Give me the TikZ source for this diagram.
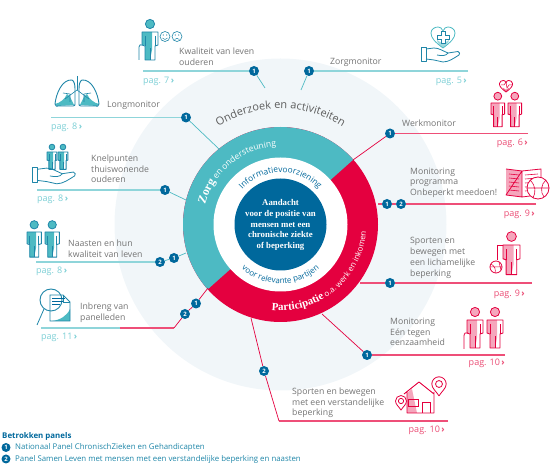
\documentclass[tikz,border=0pt]{standalone}
\usepackage{fontspec}
\setmainfont{Open Sans}
\newfontfamily\ringserif{Liberation Serif}
\usetikzlibrary{decorations.text}
\definecolor{RingTeal}{HTML}{4DBAC3}
\definecolor{RingRed}{HTML}{E4003F}
\definecolor{PalePink}{HTML}{F5A6BC}
\definecolor{LineTeal}{HTML}{8FD5DA}
\definecolor{LineRed}{HTML}{EE4F78}
\definecolor{PageTeal}{HTML}{7CCFD5}
\definecolor{PageRed}{HTML}{EA4B73}
\definecolor{CoreBlue}{HTML}{00689C}
\definecolor{IconBlue}{HTML}{1F86A8}
\definecolor{PaleBlue}{HTML}{F1F6F9}
\definecolor{TextGrey}{HTML}{747474}
\newcommand{\pagmark}{\,{\bfseries ›}}
\tikzset{
  badge/.style={circle,fill=CoreBlue,text=white,inner sep=0pt,minimum size=10pt,font=\fontsize{6}{6}\selectfont\bfseries},
  legbadge/.style={badge,minimum size=9pt,font=\fontsize{6}{6}\selectfont\bfseries},
  topic/.style={anchor=north west,align=left,inner sep=0pt,text=TextGrey,font=\fontsize{8.7}{10.7}\selectfont},
  pagteal/.style={anchor=base west,inner sep=0pt,text=PageTeal,font=\fontsize{9}{9}\selectfont},
  pagred/.style={anchor=base east,inner sep=0pt,text=PageRed,font=\fontsize{9}{9}\selectfont},
  legtext/.style={anchor=west,inner sep=0pt,text=IconBlue,font=\fontsize{7.85}{9}\selectfont},
  tealline/.style={draw=LineTeal,line width=1.2pt},
  redline/.style={draw=LineRed,line width=1.2pt},
  tealarm/.style={draw=RingTeal,line width=.7pt},
  redarm/.style={draw=RingRed,line width=.7pt},
  pics/personicon/.style 2 args={code={
    \fill[#1] (0,0) -- (10,0) -- (10,18) -- (8,28) -- (3,28) -- (3,13) -- (0,13) -- cycle;
    \draw[#2,fill=#1,line width=.8pt] (8,-8) circle [radius=4.6];
    \draw[#2,line width=.9pt,line join=round] (0,0) -- (16,0) -- (16,13) -- (13,14) -- (13,28) -- (3,28) -- (3,14) -- (0,13) -- cycle;
    \draw[#2,line width=.7pt] (3,4) -- (3,14) (13,4) -- (13,14) (8,28) -- (8,16);
  }},
  pics/handicon/.style={code={
    \draw[#1,line width=.8pt,line join=round] (0,0) rectangle (5,14);
    \draw[#1,line width=.8pt,line join=round] (5,2) -- (13,1) .. controls (18,1) and (22,4) .. (27,6) -- (37,4.5) .. controls (39,5) and (39,7) .. (38,8) .. controls (33,11) and (28,15) .. (22,15) -- (13,13) -- (5,12);
    \draw[#1,line width=.8pt] (27,6) .. controls (25,9) and (21,9) .. (16,8);
  }},
  pics/hearticon/.style={code={
    \path[fill=#1!55] (0,0) .. controls (-3,-3) and (-6,-5) .. (-6,-8) -- (0,-4) -- (6,-8) .. controls (6,-5) and (3,-3) .. (0,0);
    \draw[#1,line width=.8pt,line join=round] (0,0) .. controls (-8,-6) and (-12,-10) .. (-12,-15) .. controls (-12,-19) and (-8,-21) .. (-5,-21) .. controls (-3,-21) and (-1,-20) .. (0,-17) .. controls (1,-20) and (3,-21) .. (5,-21) .. controls (8,-21) and (12,-19) .. (12,-15) .. controls (12,-10) and (8,-6) .. (0,0);
  }},
  pics/lunghalf/.style={code={
    \fill[RingTeal] (-22,29) .. controls (-17,28) and (-12,24) .. (-10,19) -- (-7,22) -- (-3,30) -- (-20,31) -- cycle;
    \draw[IconBlue,line width=.9pt,line join=round] (-5,5) .. controls (-15,4) and (-21,19) .. (-22,29) .. controls (-22,31) and (-20,32) .. (-18,31) -- (-4,31) .. controls (-2,31) and (-2,30) .. (-2,29) -- (-2,14) .. controls (-2,9) and (-3,6) .. (-5,5);
    \draw[IconBlue,line width=.6pt] (0,15) -- (-12,24) (-7,19) -- (-7,27) (-7,19) -- (-14,18);
  }},
  pics/pinicon/.style={code={
    \draw[RingRed,line width=.8pt,fill=white,line join=round] (0,1.65) .. controls (-.4,1) and (-1,.6) .. (-1,0) .. controls (-1,-.55) and (-.55,-1) .. (0,-1) .. controls (.55,-1) and (1,-.55) .. (1,0) .. controls (1,.6) and (.4,1) .. (0,1.65);
    \draw[RingRed,line width=.8pt] (0,0) circle [radius=.48];
  }},
}
\begin{document}
\begin{tikzpicture}[x=1pt,y=-1pt]
\useasboundingbox (0,0) rectangle (550,470);

% rings
\fill[PaleBlue] (280.5,224.5) circle [radius=166];
\begin{scope}[shift={(280.5,224.5)},x=1pt,y=1pt]
\fill[RingRed] (0,0) circle [radius=97.5];
\fill[RingTeal] (41.7:97.5) arc (41.7:221.7:97.5) -- cycle;
\fill[white] (0,0) circle [radius=67];
\fill[CoreBlue] (0,0) circle [radius=46];
\path[decorate,decoration={text along path,text align=center,text={|\fontsize{11}{12}\selectfont\color{TextGrey!80!black}|Onderzoek en activiteiten}}] (150:116) arc (150:30:116);
\path[decorate,decoration={text along path,text={|\fontsize{12}{12}\selectfont\ringserif\bfseries\color{white}|Zorg|\fontsize{8.5}{10}\selectfont\color{white}| en ondersteuning}}] (165:78) arc (165:60:78);
\path[decorate,decoration={text along path,text={|\fontsize{11}{12}\selectfont\ringserif\bfseries\color{white}|Participatie|\fontsize{8}{10}\selectfont\color{white}| o.a. werk en inkomen}}] (-96:86) arc (-96:10:86);
\path[decorate,decoration={text along path,text align=center,text={|\fontsize{8.3}{9}\selectfont\color{CoreBlue}|Informatievoorziening}}] (145:52) arc (145:35:52);
\path[decorate,decoration={text along path,text align=center,text={|\fontsize{8}{9}\selectfont\color{CoreBlue}|voor relevante partijen}}] (-145:59) arc (-145:-35:59);
\end{scope}
\node[anchor=center,align=center,text=white,inner sep=0pt,font=\fontsize{8.8}{10.7}\selectfont\ringserif\bfseries] (core) at (280.5,225) {Aandacht\\voor de positie van\\mensen met een\\chronische ziekte\\of beperking};

% free ends on the rings
\coordinate (kwalEnd) at (265,88);
\coordinate (longEnd) at (219,149);
\coordinate (kneEnd) at (186,200);
\coordinate (naaEnd) at (186,253);
\coordinate (inbEnd) at (208,288);
\coordinate (inbKnee) at (174,328);
\coordinate (inbMid) at (120,328);
\coordinate (inbStart) at (41,328);
\coordinate (zorgEnd) at (301,90);
\coordinate (werkEnd) at (353,160);
\coordinate (eenEnd) at (322,314);
\coordinate (sveEnd) at (251,318);
\coordinate (sveKnee) at (279,421);

% badges
\node[badge] (kwalA) at (254,71) {1};
\node[badge] (longA) at (186,117.5) {1};
\node[badge] (kneA) at (165,190) {1};
\node[badge] (naaB) at (160,262) {2};
\node[badge] (naaA) at (174,258) {1};
\node[badge] (inbB) at (185,314) {2};
\node[badge] (inbA) at (196,303.5) {1};
\node[badge] (zorgA) at (309,71) {1};
\node[badge] (werkA) at (390,133.5) {1};
\node[badge] (progA) at (387,204) {1};
\node[badge] (progB) at (401,204) {2};
\node[badge] (splA) at (390,283) {1};
\node[badge] (eenA) at (367,355) {1};
\node[badge] (sveB) at (264,371) {2};

% connectors
\coordinate (kwalS) at (143,71);
\coordinate (longS) at (51,117.5);
\coordinate (kneS) at (37,190);
\coordinate (naaS) at (36,262);
\coordinate (zorgS) at (468,71);
\coordinate (werkS) at (528,133.5);
\coordinate (progS) at (536,204);
\coordinate (progE) at (378,204);
\coordinate (splS) at (532,283);
\coordinate (splE) at (360,283);
\coordinate (eenS) at (505,355);
\coordinate (sveS) at (448,421);
\draw[tealline] (kwalS) -- (kwalA);
\draw[tealarm] (kwalA) -- (kwalEnd);
\draw[tealline] (longS) -- (longA);
\draw[tealarm] (longA) -- (longEnd);
\draw[tealline] (kneS) -- (kneA);
\draw[tealarm] (kneA) -- (kneEnd);
\draw[tealline] (naaS) -- (naaB);
\draw[tealarm] (naaB) -- (naaA) -- (naaEnd);
\draw[tealline] (inbStart) -- (inbMid);
\draw[redline] (inbMid) -- (inbKnee);
\draw[redarm] (inbKnee) -- (inbB) -- (inbA) -- (inbEnd);
\draw[tealline] (zorgS) -- (zorgA);
\draw[tealarm] (zorgA) -- (zorgEnd);
\draw[redline] (werkS) -- (werkA);
\draw[redarm] (werkA) -- (werkEnd);
\draw[redline] (progS) -- (progB);
\draw[redline] (progB) -- (progA);
\draw[redline] (progA) -- (progE);
\draw[redline] (splS) -- (splA);
\draw[redline] (splA) -- (splE);
\draw[redline] (eenS) -- (eenA);
\draw[redarm] (eenA) -- (eenEnd);
\draw[redline] (sveS) -- (sveKnee);
\draw[redarm] (sveKnee) -- (sveB) -- (sveEnd);

% topics
\node[topic] (kwalT) at (179,48) {Kwaliteit van leven\\ouderen};
\node[topic] (zorgT) at (330,57.5) {Zorgmonitor};
\node[topic] (longT) at (107,100.5) {Longmonitor};
\node[topic] (kneT) at (91,154.5) {Knelpunten\\thuiswonende\\ouderen};
\node[topic] (naaT) at (68,239.5) {Naasten en hun\\kwaliteit van leven};
\node[topic] (inbT) at (80,303) {Inbreng van\\panelleden};
\node[topic] (werkT) at (402,119.5) {Werkmonitor};
\node[topic] (progT) at (410,167.5) {Monitoring\\programma\\Onbeperkt meedoen!};
\node[topic] (splT) at (410,237.5) {Sporten en\\bewegen met\\een lichamelijke\\beperking};
\node[topic] (eenT) at (390,318) {Monitoring\\Eén tegen\\eenzaamheid};
\node[topic] (sveT) at (292,387.5) {Sporten en bewegen\\met een verstandelijke\\beperking};

% page numbers
\node[pagteal] (kwalP) at (143,84) {pag. 7\pagmark};
\node[pagteal] (longP) at (51,130) {pag. 8\pagmark};
\node[pagteal] (kneP) at (37,202) {pag. 8\pagmark};
\node[pagteal] (naaP) at (36,274) {pag. 8\pagmark};
\node[pagteal] (inbP) at (41,340) {pag. 11\pagmark};
\node[pagteal,anchor=base east] (zorgP) at (467,84) {pag. 5\pagmark};
\node[pagred] (werkP) at (528,146) {pag. 6\pagmark};
\node[pagred] (progP) at (535,217) {pag. 9\pagmark};
\node[pagred] (splP) at (525,297) {pag. 9\pagmark};
\node[pagred] (eenP) at (505,366) {pag. 10\pagmark};
\node[pagred] (sveP) at (445,433) {pag. 10\pagmark};

% icons, blue side
\pic at (142,32) {personicon={RingTeal}{IconBlue}};
\draw[IconBlue,line width=.8pt] (139,60) -- (139,47) .. controls (139,45) and (141,44) .. (142,45);
\draw[IconBlue,line width=.6pt] (165,36.5) circle [radius=5] (177,36.5) circle [radius=5];
\draw[IconBlue,line width=.5pt] (162.5,38) .. controls (164,40) and (166,40) .. (167.5,38) (174.5,39.5) .. controls (176,38) and (178,38) .. (179.5,39.5);
\fill[IconBlue] (163.3,35) circle [radius=.6] (166.7,35) circle [radius=.6] (175.3,35) circle [radius=.6] (178.7,35) circle [radius=.6];
\pic at (77,75) {lunghalf};
\pic[xscale=-1] at (77,75) {lunghalf};
\draw[IconBlue,line width=.7pt] (77,76) -- (77,90);
\pic[scale=.62] at (47,152) {personicon={RingTeal}{IconBlue}};
\pic[scale=.62] at (58,152) {personicon={RingTeal}{IconBlue}};
\pic[scale=1.12] at (32,167) {handicon=IconBlue};
\pic[scale=.9] at (27,232) {personicon={RingTeal}{IconBlue}};
\pic[scale=.9] at (45,232) {personicon={RingTeal}{IconBlue}};
\fill[RingTeal] (52,321) .. controls (60,320) and (67,316) .. (70,309) -- (70,321) -- cycle;
\draw[IconBlue,line width=.8pt] (50,295) -- (63,295) -- (70,302) -- (70,321) -- (50,321) -- cycle;
\draw[IconBlue,line width=.6pt] (63,295) -- (63,302) -- (70,302);
\draw[IconBlue,line width=.9pt] (51,300) circle [radius=11];
\draw[IconBlue,line width=.8pt] (44,309) -- (37,325);
\draw[CoreBlue,line width=1pt] (52,299) -- (65,299) (52,302) -- (63,302) (52,305) -- (60,305);
\pic at (421,47) {handicon=IconBlue};
\pic at (443,48) {hearticon=RingTeal};
\draw[IconBlue,line width=.7pt,fill=white] (441,31) -- (445,31) -- (445,35) -- (449,35) -- (449,39) -- (445,39) -- (445,43) -- (441,43) -- (441,39) -- (437,39) -- (437,35) -- (441,35) -- cycle;

% icons, red side
\pic[scale=.85] at (491,103) {personicon={PalePink}{RingRed}};
\pic[scale=.85] at (508,103) {personicon={PalePink}{RingRed}};
\pic[scale=.55] at (506,92) {hearticon=RingRed};
\draw[RingRed,line width=.5pt] (501,85) -- (504,85) -- (506,82) -- (507,88) -- (509,85) -- (512,85);
\fill[PalePink] (506,169) -- (522,171) -- (522,197) -- (506,195) -- cycle;
\draw[RingRed,line width=.8pt,line join=round] (506,169) -- (522,171) -- (541,169) -- (541,180) (522,171) -- (522,197) -- (506,195) -- cycle (522,197) -- (530,196);
\foreach \ly in {174,178,182,186,190}
  \draw[RingRed,line width=.6pt] (509,\ly) -- (519,\ly+1) (525,\ly+1) -- (538,\ly);
\draw[RingRed,line width=.8pt,fill=white] (538,188) circle [radius=11];
\draw[RingRed,line width=.6pt] (530,180) .. controls (536,186) and (536,192) .. (533,198) (546,180) .. controls (541,184) and (540,192) .. (544,197) (527,188) -- (549,188);
\pic[scale=1.06] at (503,245) {personicon={PalePink}{RingRed}};
\draw[RingRed,line width=.8pt] (497,245) -- (503,245) (497,245) -- (497,260);
\draw[RingRed,line width=.8pt,fill=white] (496,267) circle [radius=6];
\draw[RingRed,line width=.5pt] (491,264) .. controls (495,266) and (496,270) .. (495,273) (499,262) -- (501,270) (490,267) -- (502,267);
\pic at (467,320) {personicon={PalePink}{RingRed}};
\pic at (487,320) {personicon={PalePink}{RingRed}};
\draw[RingRed,line width=.8pt] (464,349) -- (464,336) .. controls (464,333) and (466,332) .. (468,333);
\fill[PalePink] (407,393) -- (412,389) -- (417,413) -- (407,413) -- cycle;
\draw[RingRed,line width=.9pt,line join=round] (404,394) -- (419,382) -- (434,394) (407,392) -- (407,413) -- (434,413) -- (434,392);
\draw[RingRed,line width=.8pt] (422,413) -- (422,402) -- (430,402) -- (430,413) (408,399) rectangle (418,406);
\pic[scale=7.2] at (439,384) {pinicon};
\pic[scale=5.5] at (401,401) {pinicon};

% legend
\node[anchor=base west,inner sep=0pt,text=CoreBlue,font=\fontsize{7.9}{9}\selectfont\bfseries] (legT) at (2,439) {Betrokken panels};
\node[legbadge] (legA) at (6,447.5) {1};
\node[legbadge] (legB) at (6,459) {2};
\node[legtext] (legAT) at (15,447.5) {Nationaal Panel ChronischZieken en Gehandicapten};
\node[legtext] (legBT) at (15,459) {Panel Samen Leven met mensen met een verstandelijke beperking en naasten};
\end{tikzpicture}
\end{document}
